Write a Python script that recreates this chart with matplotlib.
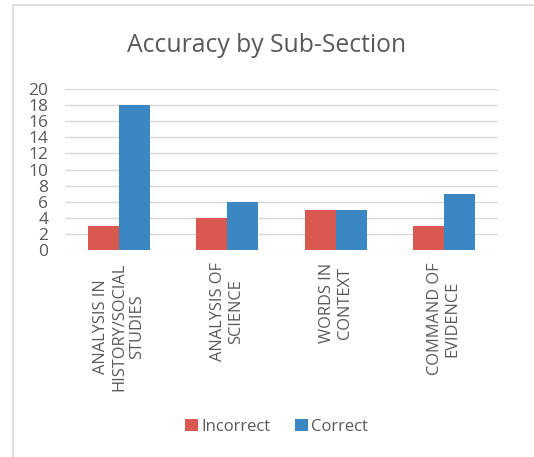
import matplotlib.pyplot as plt
import numpy as np
from matplotlib.patches import Rectangle

plt.rcParams['font.family'] = ['Open Sans', 'DejaVu Sans']

# Data
categories = ["ANALYSIS IN\nHISTORY/SOCIAL\nSTUDIES", "ANALYSIS OF\nSCIENCE",
              "WORDS IN\nCONTEXT", "COMMAND OF\nEVIDENCE"]
incorrect = [3, 4, 5, 3]
correct = [18, 6, 5, 7]
yticks = list(range(0, 21, 2))

red = '#D9584F'
blue = '#3A87C4'
text_col = '#595959'

fig = plt.figure(figsize=(5.34, 4.57), dpi=100)
ax = fig.add_axes([0.1217, 0.453, 0.811, 0.352])

x = np.arange(len(categories))
w = 0.286
ax.bar(x - w / 2, incorrect, w, color=red, label='Incorrect', zorder=3)
ax.bar(x + w / 2, correct, w, color=blue, label='Correct', zorder=3)

ax.set_xlim(-0.5, len(categories) - 0.5)
ax.set_ylim(0, 20)
ax.set_yticks(yticks)
ax.yaxis.grid(True, color='#D9D9D9', linewidth=1, zorder=0)
for s in ax.spines.values():
    s.set_visible(False)
ax.tick_params(axis='y', length=0, labelsize=12.5, labelcolor=text_col, pad=12)
ax.tick_params(axis='x', length=0)
ax.set_xticks(x)
ax.set_xticklabels([])

for xi, lab in zip(x, categories):
    ax.annotate(lab, xy=(xi, 0), xycoords='data', xytext=(0, -9),
                textcoords='offset points', rotation=90, ha='center', va='top',
                multialignment='center', fontsize=11.8, color=text_col,
                linespacing=1.15)

fig.text(0.5, 0.9, 'Accuracy by Sub-Section', ha='center', va='center',
         fontsize=17.8, color=text_col)

fig.legend(loc='center', bbox_to_anchor=(0.518, 0.066), ncol=2, frameon=False,
           fontsize=12, labelcolor=text_col, handlelength=0.75, handleheight=0.75,
           handletextpad=0.2, columnspacing=1.5)

fig.patches.append(Rectangle((13 / 534, -0.05), 1.2, 1 - 5 / 457 + 0.05,
                             transform=fig.transFigure, fill=False,
                             edgecolor='#D9D9D9', linewidth=1.2))

fig.savefig('out.png', dpi=100)
